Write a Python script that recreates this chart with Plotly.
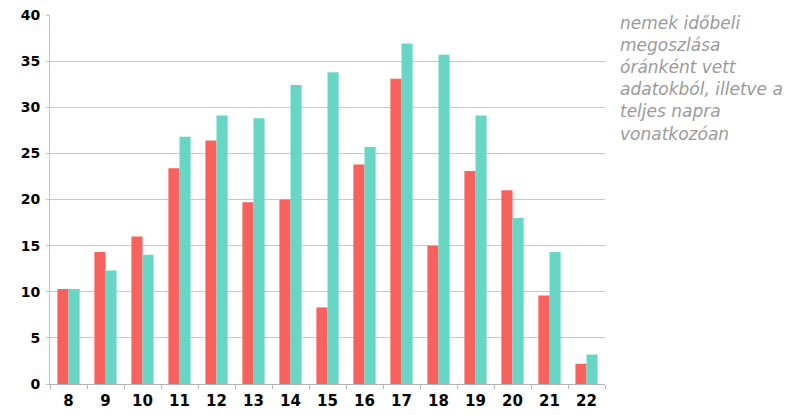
import plotly.graph_objects as go

hours = ["8", "9", "10", "11", "12", "13", "14", "15", "16", "17", "18", "19", "20", "21", "22"]
red_values = [10.3, 14.3, 16.0, 23.4, 26.4, 19.7, 20.0, 8.3, 23.8, 33.1, 15.0, 23.1, 21.0, 9.6, 2.2]
teal_values = [10.3, 12.3, 14.0, 26.8, 29.1, 28.8, 32.4, 33.8, 25.7, 36.9, 35.7, 29.1, 18.0, 14.3, 3.2]
y_ticks = [0, 5, 10, 15, 20, 25, 30, 35, 40]
note = "nemek időbeli<br>megoszlása<br>óránként vett<br>adatokból, illetve a<br>teljes napra<br>vonatkozóan"

fig = go.Figure()
fig.add_trace(go.Bar(x=hours, y=red_values, marker_color="#F8625E", marker_line_width=0))
fig.add_trace(go.Bar(x=hours, y=teal_values, marker_color="#68D6C4", marker_line_width=0))

# page body has an 8px margin, so the plot area is shifted by that much
fig.update_layout(
    width=808,
    height=415,
    barmode="group",
    bargap=0.4,
    bargroupgap=0,
    showlegend=False,
    plot_bgcolor="white",
    paper_bgcolor="white",
    margin=dict(l=42, r=211, t=7, b=39, autoexpand=False),
    font=dict(family="DejaVu Sans", size=15, color="black"),
    xaxis=dict(
        type="category",
        showline=True,
        linecolor="#b4b4b4",
        linewidth=1,
        ticks="outside",
        tickson="boundaries",
        ticklen=4,
        tickcolor="#b4b4b4",
        showgrid=False,
        tickfont=dict(size=15, weight="bold"),
        ticklabelstandoff=3,
        automargin=False,
    ),
    yaxis=dict(
        range=[0, 40],
        tickvals=y_ticks,
        showline=True,
        linecolor="#c4c4c4",
        linewidth=1,
        gridcolor="#c8c8c8",
        gridwidth=1,
        ticks="outside",
        ticklen=3,
        tickcolor="#c4c4c4",
        tickfont=dict(size=14, weight="bold"),
        ticklabelstandoff=3,
        ticklabeloverflow="allow",
        zeroline=False,
        automargin=False,
    ),
)

fig.add_annotation(
    text=note,
    xref="paper", yref="paper",
    x=1.023, y=1.011,
    xanchor="left", yanchor="top",
    align="left",
    showarrow=False,
    font=dict(family="DejaVu Sans", size=17, color="#9a9a9a", style="italic"),
)

fig.write_html("out.html")
